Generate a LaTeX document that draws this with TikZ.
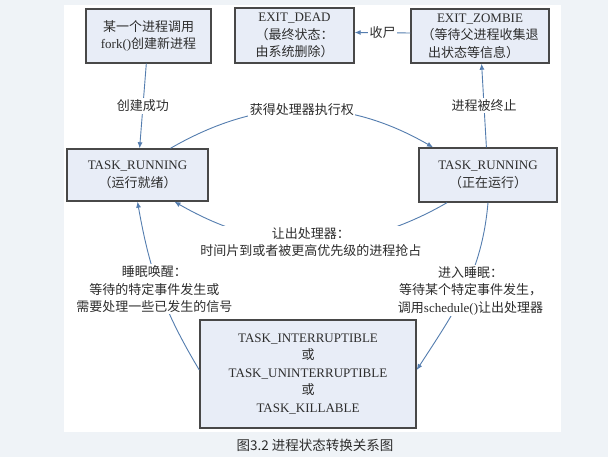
\documentclass[tikz,border=0pt]{standalone}
\usepackage{fontspec}
\setmainfont{Liberation Serif}
\newfontfamily\zhfont{Noto Sans CJK SC}
\newcommand{\zh}[1]{{\zhfont #1}}
\usetikzlibrary{arrows.meta,positioning}
\definecolor{boxfill}{RGB}{232,237,247}
\definecolor{boxline}{RGB}{72,72,72}
\definecolor{flow}{RGB}{84,125,175}
\definecolor{ink}{RGB}{45,45,45}
\definecolor{pagebg}{RGB}{239,243,247}

\begin{document}
\begin{tikzpicture}[
  x=1pt, y=1pt,
  state/.style={draw=boxline, line width=1.4pt, fill=boxfill, align=center, inner sep=2pt, text=ink, font=\fontsize{13}{17.5}\selectfont},
  lbl/.style={fill=white, align=center, inner sep=1.5pt, text=ink, font=\fontsize{13}{17.5}\selectfont},
  arrow/.style={-{Latex[length=6pt,width=5pt]}, draw=flow, line width=0.9pt}
]
\useasboundingbox[fill=pagebg] (0,0) rectangle (608,457);
\fill[white] (64,25) rectangle (561,452);

% states
\node[state, minimum width=125pt, minimum height=54pt] (fork) at (148.5,421) {\zh{某一个进程调用}\\fork()\zh{创建新进程}};
\node[state, minimum width=119pt, minimum height=55pt] (dead) at (294.5,421.5) {EXIT\_DEAD\\\zh{（最终状态：}\\\zh{由系统删除）}};
\node[state, minimum width=138pt, minimum height=54pt] (zombie) at (480,421) {EXIT\_ZOMBIE\\\zh{（等待父进程收集退}\\\zh{出状态等信息）}\hspace*{13pt}};
\node[state, minimum width=141pt, minimum height=52pt] (ready) at (137.5,282) {TASK\_RUNNING\\\zh{（运行就绪）}};
\node[state, minimum width=138pt, minimum height=54pt] (run) at (488,282) {TASK\_RUNNING\\\zh{（正在运行）}};
\node[state, minimum width=216pt, minimum height=108pt] (sleep) at (308,83) {TASK\_INTERRUPTIBLE\\\zh{或}\\TASK\_UNINTERRUPTIBLE\\\zh{或}\\TASK\_KILLABLE};

% transitions
\draw[arrow] (fork) -- node[lbl]{\zh{创建成功}} (ready);
\draw[arrow] ([xshift=33pt]ready.north) to[out=30, in=150] node[lbl]{\zh{获得处理器执行权}} ([xshift=-55pt]run.north);
\draw[arrow] ([xshift=-41pt]run.south) to[out=-150, in=-30] node[lbl]{\zh{让出处理器：}\\\zh{时间片到或者被更高优先级的进程抢占}} ([xshift=37pt]ready.south);
\draw[arrow] (run.south) to[out=-95, in=57] node[lbl, xshift=6pt]{\zh{进入睡眠：}\\\zh{等待某个特定事件发生，}\\\zh{调用}schedule()\zh{让出处理器}} ([yshift=4pt]sleep.east);
\draw[arrow] ([yshift=4pt]sleep.west) to[out=121, in=-80] node[lbl, xshift=-5pt]{\zh{睡眠唤醒：}\\\zh{等待的特定事件发生或}\\\zh{需要处理一些已发生的信号}} (ready.south);
\draw[arrow] (run) -- node[lbl]{\zh{进程被终止}} (zombie);
\draw[arrow] ([yshift=3pt]zombie.west) -- node[lbl]{\zh{收尸}} ([yshift=3pt]dead.east);

\node[text=ink, font=\zhfont\fontsize{13.5}{16}\selectfont] (caption) at (315,12) {图3.2 进程状态转换关系图};
\end{tikzpicture}
\end{document}
